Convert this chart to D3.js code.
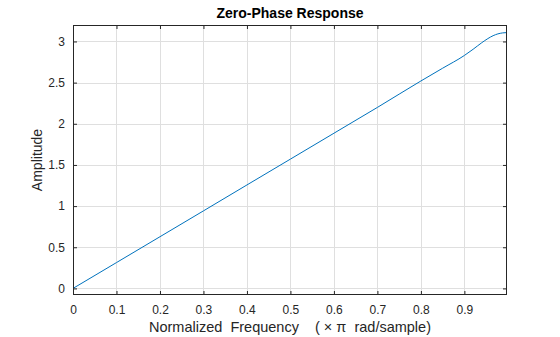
<!DOCTYPE html>
<html>
<head>
<meta charset="utf-8">
<script src="https://cdn.jsdelivr.net/npm/d3@7/dist/d3.min.js"></script>
<style>
  html, body { margin: 0; padding: 0; background: #fff; }
  svg { display: block; font-family: "Liberation Sans", Arial, Helvetica, sans-serif; }
</style>
</head>
<body>
<svg id="chart" width="560" height="337"></svg>
<script>
// Data
const freq = [0, 0.1, 0.2, 0.3, 0.4, 0.5, 0.6, 0.7, 0.8, 0.85, 0.9, 0.92, 0.94, 0.954, 0.966, 0.977, 0.988, 0.998];
const amplitude = [0, 0.314, 0.628, 0.942, 1.257, 1.571, 1.885, 2.199, 2.52, 2.675, 2.83, 2.905, 2.985, 3.035, 3.07, 3.092, 3.104, 3.108];
const xTicks = [0, 0.1, 0.2, 0.3, 0.4, 0.5, 0.6, 0.7, 0.8, 0.9];
const yTicks = [0, 0.5, 1, 1.5, 2, 2.5, 3];
const xDomain = [0, 0.998];
const yDomain = [-0.08, 3.2];

const svg = d3.select("#chart");
const m = { left: 73, top: 25, right: 507, bottom: 295 };

const x = d3.scaleLinear().domain(xDomain).range([m.left, m.right]);
const y = d3.scaleLinear().domain(yDomain).range([m.bottom, m.top]);

// Grid
const grid = svg.append("g");
grid.selectAll("line.vx").data(xTicks.filter(d => d > 0)).enter().append("line")
  .attr("x1", d => Math.round(x(d)) + 0.5).attr("x2", d => Math.round(x(d)) + 0.5)
  .attr("y1", m.top).attr("y2", m.bottom)
  .attr("stroke", "#dfdfdf").attr("stroke-width", 1);
grid.selectAll("line.hy").data(yTicks).enter().append("line")
  .attr("y1", d => Math.round(y(d)) + 0.5).attr("y2", d => Math.round(y(d)) + 0.5)
  .attr("x1", m.left).attr("x2", m.right)
  .attr("stroke", "#dfdfdf").attr("stroke-width", 1);

// Line
const line = d3.line().x((d, i) => x(freq[i])).y(d => y(d)).curve(d3.curveMonotoneX);
svg.append("path").datum(amplitude)
  .attr("d", line)
  .attr("fill", "none")
  .attr("stroke", "#0072BD")
  .attr("stroke-width", 1);

// Axes
const axisColor = "#262626";
const xAxisB = d3.axisBottom(x).tickValues(xTicks).tickSizeInner(-4).tickSizeOuter(0)
  .tickFormat(d => d === 0 ? "0" : d3.format(".1f")(d)).tickPadding(10);
const gx = svg.append("g").attr("transform", `translate(0,${m.bottom})`).call(xAxisB);
const xAxisT = d3.axisTop(x).tickValues(xTicks).tickSizeInner(-4).tickSizeOuter(0).tickFormat("");
const gxt = svg.append("g").attr("transform", `translate(0,${m.top})`).call(xAxisT);
const yAxisL = d3.axisLeft(y).tickValues(yTicks).tickSizeInner(-4).tickSizeOuter(0)
  .tickFormat(d => String(d)).tickPadding(8);
const gy = svg.append("g").attr("transform", `translate(${m.left},0)`).call(yAxisL);
const yAxisR = d3.axisRight(y).tickValues(yTicks).tickSizeInner(-4).tickSizeOuter(0).tickFormat("");
const gyr = svg.append("g").attr("transform", `translate(${m.right},0)`).call(yAxisR);

[gx, gxt, gy, gyr].forEach(g => {
  g.select(".domain").remove();
  g.selectAll("line").attr("stroke", axisColor);
  g.selectAll("text").attr("fill", axisColor).style("font-size", "12px")
    .style("font-family", "'Liberation Sans', Arial, Helvetica, sans-serif");
});

// Box
svg.append("rect")
  .attr("x", m.left + 0.5).attr("y", m.top + 0.5)
  .attr("width", m.right - m.left - 1).attr("height", m.bottom - m.top - 1)
  .attr("fill", "none").attr("stroke", axisColor).attr("stroke-width", 1);

// Title
svg.append("text")
  .attr("x", (m.left + m.right) / 2).attr("y", 18)
  .attr("text-anchor", "middle")
  .attr("fill", "#000")
  .style("font-size", "14px").style("font-weight", "bold")
  .text("Zero-Phase Response");

// X label
svg.append("text")
  .attr("x", (m.left + m.right) / 2).attr("y", 332)
  .attr("text-anchor", "middle")
  .attr("fill", axisColor)
  .style("font-size", "14.5px")
  .attr("xml:space", "preserve")
  .style("white-space", "pre")
  .text("Normalized  Frequency    ( \u00d7 \u03c0  rad/sample)");

// Y label
svg.append("text")
  .attr("transform", `translate(42,${(m.top + m.bottom) / 2}) rotate(-90)`)
  .attr("text-anchor", "middle")
  .attr("fill", axisColor)
  .style("font-size", "14px")
  .text("Amplitude");
</script>
</body>
</html>
